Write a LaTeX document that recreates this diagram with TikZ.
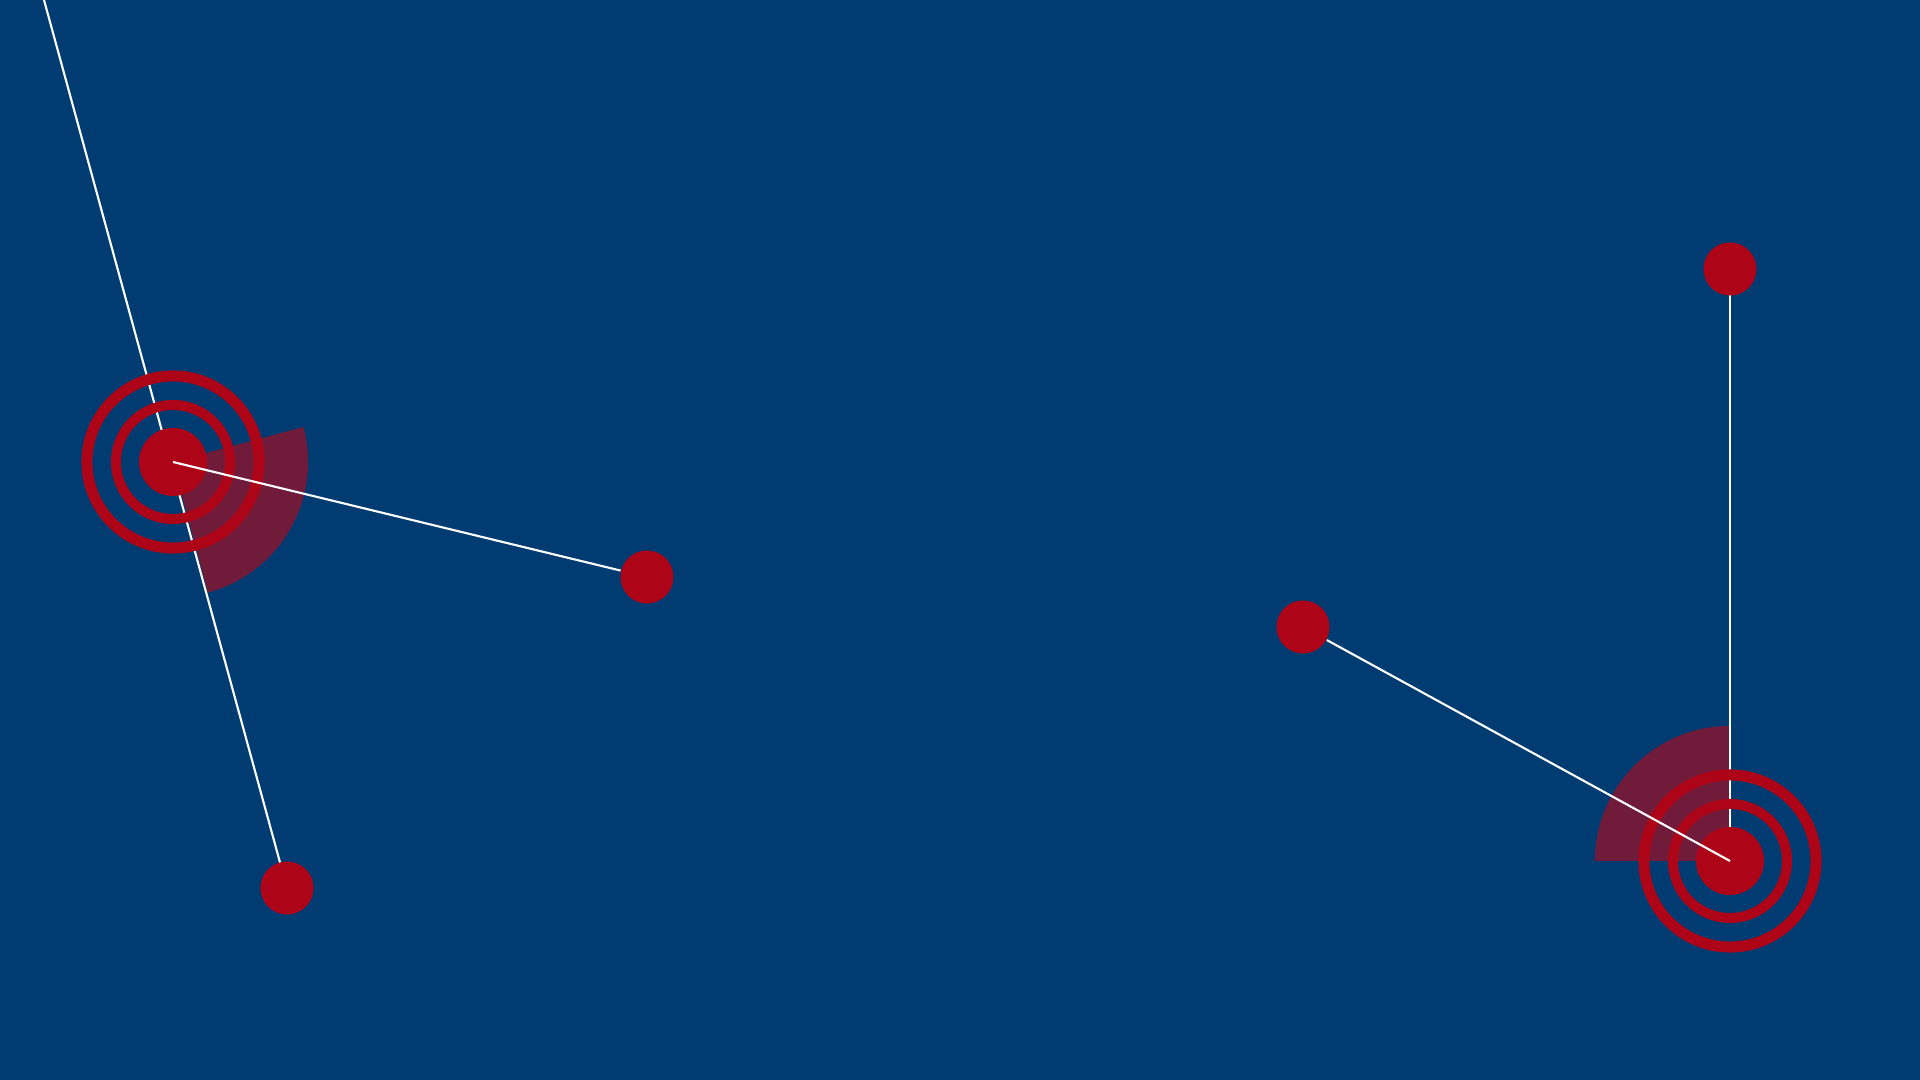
\documentclass[tikz,border=0pt]{standalone}
\definecolor{deep navy}{HTML}{003C71}
\definecolor{signal red}{HTML}{AE0418}
\definecolor{sector red}{HTML}{701B3A}
\def\leftsector{(hubL) -- ++(-75:1.35cm) arc[start angle=-75, end angle=15, radius=1.35cm] -- cycle}
\def\rightsector{(hubR) -- ++(90:1.35cm) arc[start angle=90, end angle=180, radius=1.35cm] -- cycle}
\tikzset{link/.style={draw=white, line width=0.6pt},
    pin/.style={circle, fill=signal red, inner sep=0pt, minimum size=0.53cm},
    hub/.style={circle, fill=signal red, inner sep=0pt, minimum size=0.68cm},
    ring/.style={draw=signal red, line width=0.1cm}}

\begin{document}
\begin{tikzpicture}[x=0.01cm, y=-0.01cm]
    \fill[deep navy] (0,0) rectangle (1920,1080);
    \useasboundingbox (0,0) rectangle (1920,1080);
    \clip (0,0) rectangle (1920,1080);
    % positions
    \coordinate (hubL) at (173,462);
    \coordinate (lowL) at (287,888);
    \coordinate (sideL) at (647,577);
    \coordinate (topL) at (44,0);
    \coordinate (hubR) at (1730,861);
    \coordinate (upR) at (1730,269);
    \coordinate (sideR) at (1303,627);
    % sectors
    \fill[sector red] \leftsector;
    \fill[sector red] \rightsector;
    % lines under the targets
    \draw[link] (topL) -- (lowL);
    \draw[link] (upR) -- (hubR);
    % targets
    \draw[ring] (hubL) circle (0.57cm);
    \draw[ring, line width=0.11cm] (hubL) circle (0.86cm);
    \draw[ring] (hubR) circle (0.57cm);
    \draw[ring, line width=0.11cm] (hubR) circle (0.86cm);
    \node[hub] (centreL) at (hubL) {};
    \node[hub] (centreR) at (hubR) {};
    \node[pin] (pinLow) at (lowL) {};
    \node[pin] (pinSideL) at (sideL) {};
    \node[pin] (pinUp) at (upR) {};
    \node[pin] (pinSideR) at (sideR) {};
    % lines over the targets
    \draw[link] (centreL.center) -- (pinSideL);
    \draw[link] (centreR.center) -- (pinSideR);
\end{tikzpicture}
\end{document}
